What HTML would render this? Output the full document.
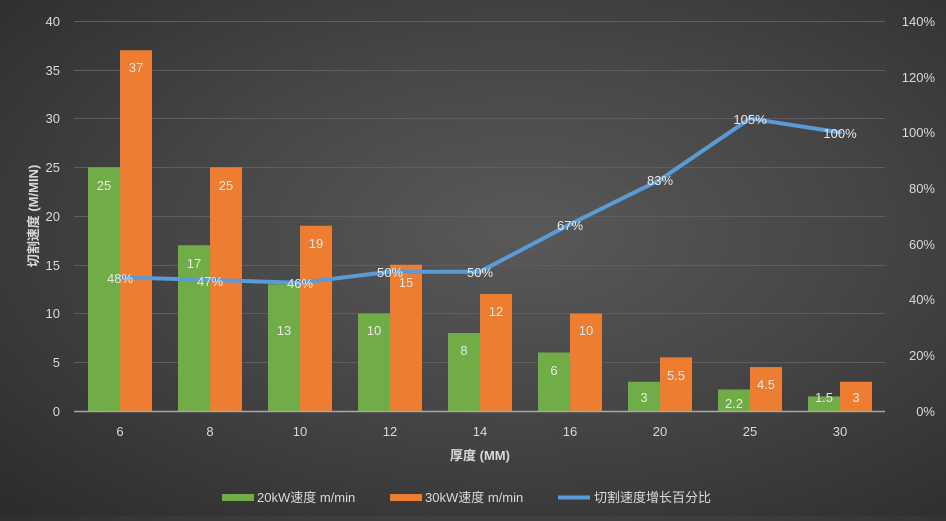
<!DOCTYPE html>
<html><head><meta charset="utf-8"><style>
html,body{margin:0;padding:0;}
body{width:946px;height:516px;overflow:hidden;background:radial-gradient(ellipse at 55% 45%,#595959 0%,#464646 45%,#2b2b2b 100%);}
svg text{font-family:"Liberation Sans","Noto Sans CJK SC",sans-serif;}
</style></head><body>
<svg width="946" height="516" xmlns="http://www.w3.org/2000/svg">
<g stroke="#5e5e5e" stroke-width="1">
<line x1="74" x2="885" y1="21.5" y2="21.5"/><line x1="74" x2="885" y1="70.5" y2="70.5"/><line x1="74" x2="885" y1="118.5" y2="118.5"/><line x1="74" x2="885" y1="167.5" y2="167.5"/><line x1="74" x2="885" y1="216.5" y2="216.5"/><line x1="74" x2="885" y1="265.5" y2="265.5"/><line x1="74" x2="885" y1="313.5" y2="313.5"/><line x1="74" x2="885" y1="362.5" y2="362.5"/>
</g>
<g fill="#d9d9d9" font-size="13" text-anchor="end">
<text x="60" y="26">40</text><text x="60" y="75">35</text><text x="60" y="123">30</text><text x="60" y="172">25</text><text x="60" y="221">20</text><text x="60" y="270">15</text><text x="60" y="318">10</text><text x="60" y="367">5</text><text x="60" y="416">0</text>
</g>
<g fill="#d9d9d9" font-size="13" text-anchor="end">
<text x="935" y="26">140%</text><text x="935" y="82">120%</text><text x="935" y="137">100%</text><text x="935" y="193">80%</text><text x="935" y="249">60%</text><text x="935" y="304">40%</text><text x="935" y="360">20%</text><text x="935" y="416">0%</text>
</g>
<text transform="translate(38,216) rotate(-90)" fill="#d9d9d9" font-size="13" font-weight="bold" text-anchor="middle">切割速度 (M/MIN)</text>
<g id="bars">
<rect x="88" y="167.25" width="32" height="243.75" fill="#70ad47"/><rect x="120" y="50.25" width="32" height="360.75" fill="#ed7d31"/>
<rect x="178" y="245.25" width="32" height="165.75" fill="#70ad47"/><rect x="210" y="167.25" width="32" height="243.75" fill="#ed7d31"/>
<rect x="268" y="284.25" width="32" height="126.75" fill="#70ad47"/><rect x="300" y="225.75" width="32" height="185.25" fill="#ed7d31"/>
<rect x="358" y="313.5" width="32" height="97.5" fill="#70ad47"/><rect x="390" y="264.75" width="32" height="146.25" fill="#ed7d31"/>
<rect x="448" y="333" width="32" height="78" fill="#70ad47"/><rect x="480" y="294" width="32" height="117" fill="#ed7d31"/>
<rect x="538" y="352.5" width="32" height="58.5" fill="#70ad47"/><rect x="570" y="313.5" width="32" height="97.5" fill="#ed7d31"/>
<rect x="628" y="381.75" width="32" height="29.25" fill="#70ad47"/><rect x="660" y="357.4" width="32" height="53.6" fill="#ed7d31"/>
<rect x="718" y="389.5" width="32" height="21.5" fill="#70ad47"/><rect x="750" y="367.1" width="32" height="43.9" fill="#ed7d31"/>
<rect x="808" y="396.4" width="32" height="14.6" fill="#70ad47"/><rect x="840" y="381.75" width="32" height="29.25" fill="#ed7d31"/>
</g>
<line x1="74" x2="885" y1="411.5" y2="411.5" stroke="#a6a6a6" stroke-width="1.5"/>
<g fill="#e8e8e8" font-size="13" text-anchor="middle">
<text x="104" y="190">25</text><text x="136" y="72">37</text>
<text x="194" y="268">17</text><text x="226" y="190">25</text>
<text x="284" y="335">13</text><text x="316" y="248">19</text>
<text x="374" y="335">10</text><text x="406" y="287">15</text>
<text x="464" y="355">8</text><text x="496" y="316">12</text>
<text x="554" y="375">6</text><text x="586" y="335">10</text>
<text x="644" y="402">3</text><text x="676" y="380">5.5</text>
<text x="734" y="408">2.2</text><text x="766" y="389">4.5</text>
<text x="824" y="402">1.5</text><text x="856" y="402">3</text>
</g>
<polyline fill="none" stroke="#5b9bd5" stroke-width="4" stroke-linejoin="round" stroke-linecap="round" points="120,277.3 210,280 300,282.8 390,271.7 480,271.7 570,224.3 660,179.8 750,118.5 840,132.4"/>
<g fill="#e8e8e8" font-size="13" text-anchor="middle">
<text x="120" y="283">48%</text><text x="210" y="286">47%</text><text x="300" y="288">46%</text><text x="390" y="277">50%</text><text x="480" y="277">50%</text><text x="570" y="230">67%</text><text x="660" y="185">83%</text><text x="750" y="124">105%</text><text x="840" y="138">100%</text>
</g>
<g fill="#d9d9d9" font-size="13" text-anchor="middle">
<text x="120" y="436">6</text><text x="210" y="436">8</text><text x="300" y="436">10</text><text x="390" y="436">12</text><text x="480" y="436">14</text><text x="570" y="436">16</text><text x="660" y="436">20</text><text x="750" y="436">25</text><text x="840" y="436">30</text>
</g>
<text x="480" y="460" fill="#d9d9d9" font-size="13" font-weight="bold" text-anchor="middle">厚度 (MM)</text>
<g font-size="13" fill="#d9d9d9">
<rect x="222" y="494" width="32" height="7" fill="#70ad47"/><text x="257" y="502">20kW速度 m/min</text>
<rect x="390" y="494" width="32" height="7" fill="#ed7d31"/><text x="425" y="502">30kW速度 m/min</text>
<line x1="558" x2="590" y1="497.5" y2="497.5" stroke="#5b9bd5" stroke-width="4"/><text x="594" y="502">切割速度增长百分比</text>
</g>
</svg>
</body></html>
